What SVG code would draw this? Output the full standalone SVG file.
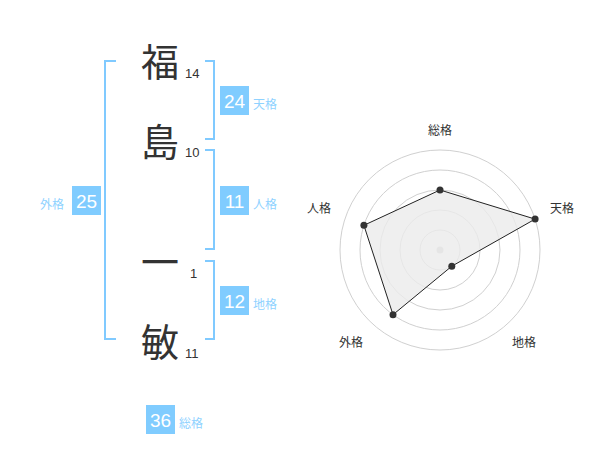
<svg xmlns="http://www.w3.org/2000/svg" width="600" height="470" viewBox="0 0 600 470">
<style>
.kanji{font-family:"Noto Sans CJK JP","Noto Sans CJK SC",sans-serif;font-size:38px;fill:#333;text-anchor:middle}
.strokes{font-family:"Liberation Sans",Arial,sans-serif;font-size:13px;fill:#333}
.br{fill:none;stroke:#80caff;stroke-width:2}
.box{fill:#80ccff}
.num{font-family:"Liberation Sans",Arial,sans-serif;font-size:19px;fill:#fff;text-anchor:middle}
.lbl{font-family:"Noto Sans CJK JP","Noto Sans CJK SC",sans-serif;font-size:12px;fill:#8fd2ff}
.ring{fill:none;stroke:#d0d0d0;stroke-width:1}
.axis{font-family:"Noto Sans CJK JP","Noto Sans CJK SC",sans-serif;font-size:12px;fill:#333;text-anchor:middle}
.pt{fill:#333}
</style>
<rect width="600" height="470" fill="#fff"/>
<g id="name">
<g id="char1"><text class="kanji" x="160" y="76">福</text><text class="strokes" x="185" y="78">14</text></g>
<g id="char2"><text class="kanji" x="160" y="156">島</text><text class="strokes" x="185" y="157">10</text></g>
<g id="char3"><text class="kanji" x="160" y="276">一</text><text class="strokes" x="190" y="278">1</text></g>
<g id="char4"><text class="kanji" x="160" y="356">敏</text><text class="strokes" x="185" y="358">11</text></g>
</g>
<g id="connectors">
<path class="br" d="M116,61 H105 V339 H116"/>
<path class="br" d="M205,61 H214 V139 H205"/>
<path class="br" d="M205,150 H214 V249 H205"/>
<path class="br" d="M205,261 H214 V339 H205"/>
</g>
<g id="tenkaku"><rect class="box" x="220" y="86" width="29" height="29"/><text class="num" x="234.5" y="107.5">24</text><text class="lbl" x="253" y="109">天格</text></g>
<g id="jinkaku"><rect class="box" x="220" y="186" width="29" height="29"/><text class="num" x="234.5" y="207.5">11</text><text class="lbl" x="253" y="209">人格</text></g>
<g id="chikaku"><rect class="box" x="220" y="286" width="29" height="29"/><text class="num" x="234.5" y="307.5">12</text><text class="lbl" x="253" y="309">地格</text></g>
<g id="gaikaku"><rect class="box" x="72" y="186" width="29" height="29"/><text class="num" x="86.5" y="207.5">25</text><text class="lbl" x="40" y="209">外格</text></g>
<g id="soukaku"><rect class="box" x="146" y="405" width="29" height="29"/><text class="num" x="160.5" y="426.5">36</text><text class="lbl" x="179" y="428">総格</text></g>
<g id="radar">
<circle class="ring" cx="440" cy="250" r="20"/>
<circle class="ring" cx="440" cy="250" r="40"/>
<circle class="ring" cx="440" cy="250" r="60"/>
<circle class="ring" cx="440" cy="250" r="80"/>
<circle class="ring" cx="440" cy="250" r="100"/>
<circle cx="440" cy="250" r="3.5" fill="#ccc"/>
<polygon points="440,190 535.1,219.1 451.8,266.2 393,314.7 363.9,225.3" fill="#ebebeb" fill-opacity="0.8" stroke="#222" stroke-width="1"/>
<circle class="pt" cx="440" cy="190" r="3.5"/>
<circle class="pt" cx="535.1" cy="219.1" r="3.5"/>
<circle class="pt" cx="451.8" cy="266.2" r="3.5"/>
<circle class="pt" cx="393" cy="314.7" r="3.5"/>
<circle class="pt" cx="363.9" cy="225.3" r="3.5"/>
<text class="axis" x="440" y="135">総格</text>
<text class="axis" x="562" y="213">天格</text>
<text class="axis" x="524" y="347">地格</text>
<text class="axis" x="351" y="347">外格</text>
<text class="axis" x="319" y="213">人格</text>
</g>
</svg>
